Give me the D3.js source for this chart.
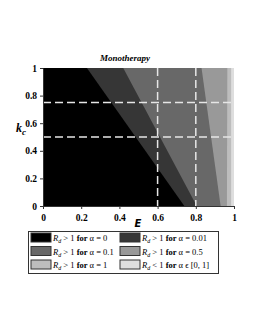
<!DOCTYPE html>
<html><head><meta charset="utf-8">
<script src="https://cdn.jsdelivr.net/npm/d3@7"></script>
<style>body{margin:0;background:#fff}svg{display:block}</style>
</head><body>
<script>
// Data
const alphaLabels = ["0", "0.01", "0.1", "0.5", "1"];
const boundaryAtKc1 = [0.23, 0.42, 0.83, 0.965, 0.985];   // E where region ends at k_c = 1
const boundaryAtKc0 = [0.74, 0.805, 0.93, 0.963, 0.985];  // E where region ends at k_c = 0
const regionColors = ["#000000", "#363636", "#686868", "#999999", "#bdbdbd", "#dedede"];
const dashedE = [0.6, 0.8];
const dashedKc = [0.5, 0.75];
const tickValues = [0, 0.2, 0.4, 0.6, 0.8, 1];
const legendLabels = [
  {op: ">", txt: "α = 0"},
  {op: ">", txt: "α = 0.01"},
  {op: ">", txt: "α = 0.1"},
  {op: ">", txt: "α = 0.5"},
  {op: ">", txt: "α = 1"},
  {op: "<", txt: "α ϵ [0, 1]"}
];

const W = 255, H = 330;
const svg = d3.select("body").append("svg").attr("width", W).attr("height", H);
const x = d3.scaleLinear().domain([0, 1]).range([43, 234]);
const y = d3.scaleLinear().domain([0, 1]).range([206, 68]);
const serif = "'Liberation Serif','Times New Roman',serif";

svg.append("rect").attr("x", x(0)).attr("y", y(1)).attr("width", x(1) - x(0)).attr("height", y(0) - y(1))
  .attr("fill", regionColors[5]);
for (let i = alphaLabels.length - 1; i >= 0; i--) {
  const pts = [[0, 0], [0, 1], [boundaryAtKc1[i], 1], [boundaryAtKc0[i], 0]];
  svg.append("path")
    .attr("d", d3.line().x(d => x(d[0])).y(d => y(d[1]))(pts) + "Z")
    .attr("fill", regionColors[i]);
}

dashedKc.forEach(k => svg.append("line").attr("x1", x(0)).attr("x2", x(1)).attr("y1", y(k)).attr("y2", y(k))
  .attr("stroke", "#e6e6e6").attr("stroke-width", 1.5).attr("stroke-dasharray", "8,4"));
dashedE.forEach(e => svg.append("line").attr("x1", x(e)).attr("x2", x(e)).attr("y1", y(1)).attr("y2", y(0))
  .attr("stroke", "#e6e6e6").attr("stroke-width", 1.5).attr("stroke-dasharray", "8,4"));

const fmt = d => d === 0 ? "0" : d === 1 ? "1" : d3.format(".1f")(d);
const gx = svg.append("g").attr("transform", `translate(0,${y(0)})`)
  .call(d3.axisBottom(x).tickValues(tickValues).tickFormat(fmt).tickSize(3).tickSizeOuter(0));
const gy = svg.append("g").attr("transform", `translate(${x(0)},0)`)
  .call(d3.axisLeft(y).tickValues(tickValues).tickFormat(fmt).tickSize(3).tickSizeOuter(0));
[gx, gy].forEach(g => {
  g.selectAll("text").attr("font-family", serif).attr("font-weight", "bold").attr("font-size", 9.5).attr("fill", "#000");
  g.selectAll("line").attr("stroke", "#333");
  g.select(".domain").attr("stroke", "#333");
});
gx.selectAll("text").attr("dy", "0.9em");

svg.append("text").attr("x", 125).attr("y", 61).attr("text-anchor", "middle")
  .attr("font-family", serif).attr("font-weight", "bold").attr("font-style", "italic").attr("font-size", 9)
  .text("Monotherapy");
svg.append("text").attr("x", 138).attr("y", 227).attr("text-anchor", "middle")
  .attr("font-family", "'DejaVu Sans',sans-serif").attr("font-weight", "bold").attr("font-style", "italic").attr("font-size", 10)
  .text("E");
const kc = svg.append("text").attr("x", 16).attr("y", 132)
  .attr("font-family", serif).attr("font-weight", "bold").attr("font-style", "italic").attr("font-size", 12);
kc.append("tspan").text("k");
kc.append("tspan").attr("dy", 3).attr("font-size", 9).text("c");

const lg = svg.append("g");
lg.append("rect").attr("x", 28.5).attr("y", 231.5).attr("width", 190).attr("height", 42)
  .attr("fill", "#fff").attr("stroke", "#333").attr("stroke-width", 1);
legendLabels.forEach((d, i) => {
  const col = i % 2, row = Math.floor(i / 2);
  const sx = col === 0 ? 31 : 120, sy = 233 + row * 13.5;
  lg.append("rect").attr("x", sx).attr("y", sy).attr("width", 20).attr("height", 9)
    .attr("fill", regionColors[i]).attr("stroke", "#333").attr("stroke-width", 1);
  const t = lg.append("text").attr("x", sx + 22).attr("y", sy + 8)
    .attr("font-family", serif).attr("font-size", 8.5);
  t.append("tspan").attr("font-style", "italic").text("R");
  t.append("tspan").attr("font-style", "italic").attr("font-size", 6).attr("dy", 2).text("d");
  t.append("tspan").attr("dy", -2).text(` ${d.op} 1 `);
  t.append("tspan").attr("font-weight", "bold").text("for");
  t.append("tspan").text(" " + d.txt);
});
</script>
</body></html>
